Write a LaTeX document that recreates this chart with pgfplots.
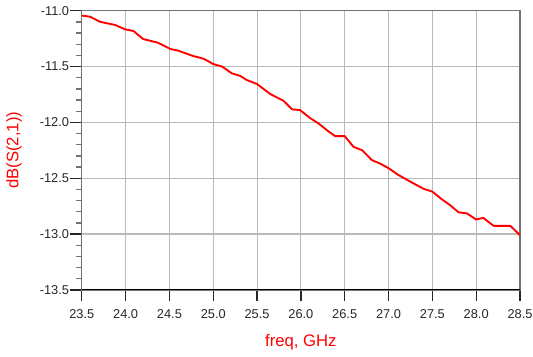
\documentclass[border=0pt]{standalone}
\usepackage{pgfplots}
\pgfplotsset{compat=1.18}
\usepackage{fontspec}
\setmainfont{Liberation Sans}
\definecolor{adsred}{RGB}{255,0,0}
\begin{document}
\begin{tikzpicture}
\path[use as bounding box] (-61.3pt,-49.7pt) rectangle (338.25pt,217.3pt);
\begin{axis}[
  at={(0,0)}, anchor=south west,
  scale only axis, width=328.5pt, height=209.3pt,
  xmin=23.5, xmax=28.5, ymin=-13.5, ymax=-11.0,
  xtick={23.5,24,...,28.5},
  ytick={-13.5,-13,...,-11},
  minor y tick num=4,
  grid=major,
  major grid style={gray!55, line width=0.8pt},
  axis line style={black!55, line width=1pt},
  tick align=outside,
  xtick pos=bottom, ytick pos=left,
  major tick length=8.5pt,
  minor tick length=4.3pt,
  major tick style={black!85, line width=1pt},
  minor tick style={black!55, line width=1pt},
  /pgf/number format/assume math mode=true,
  /pgf/number format/.cd, fixed, fixed zerofill, precision=1, /pgfplots/.cd,
  ticklabel style={font=\fontsize{9.6pt}{11pt}\selectfont, text=black!85},
  xticklabel style={yshift=-2.5pt},
  yticklabel style={xshift=2.5pt},
  xlabel={freq, GHz},
  ylabel={dB(S(2,1))},
  every axis x label/.style={at={(axis description cs:0.5,-0.1863)}, anchor=center},
  every axis y label/.style={at={(axis description cs:-0.1546,0.5)}, rotate=90, anchor=center},
  label style={font=\fontsize{12.5pt}{14pt}\selectfont, text=adsred},
  clip=false,
]
\addplot[adsred, line width=1.4pt, line join=round] coordinates {
(23.50,-11.045) (23.51,-11.045) (23.595,-11.054) (23.71,-11.10) (23.88,-11.128)
(23.994,-11.167) (24.09,-11.182) (24.20,-11.254) (24.37,-11.287) (24.51,-11.343)
(24.60,-11.358) (24.77,-11.406) (24.89,-11.43) (25.00,-11.478) (25.10,-11.50)
(25.21,-11.56) (25.31,-11.585) (25.38,-11.62) (25.50,-11.657) (25.65,-11.746)
(25.80,-11.806) (25.90,-11.884) (25.99,-11.89) (26.11,-11.964) (26.20,-12.009)
(26.32,-12.084) (26.39,-12.123) (26.50,-12.123) (26.60,-12.219) (26.70,-12.25)
(26.81,-12.338) (26.905,-12.37) (27.00,-12.41) (27.11,-12.47) (27.27,-12.54)
(27.40,-12.595) (27.50,-12.62) (27.61,-12.69) (27.70,-12.74) (27.80,-12.806)
(27.895,-12.815) (28.00,-12.87) (28.08,-12.855) (28.20,-12.927) (28.39,-12.927)
(28.50,-13.01)
};
\draw[black, line width=0.7pt] (rel axis cs:0,0) -- (rel axis cs:1,0);
\end{axis}
\end{tikzpicture}
\end{document}
